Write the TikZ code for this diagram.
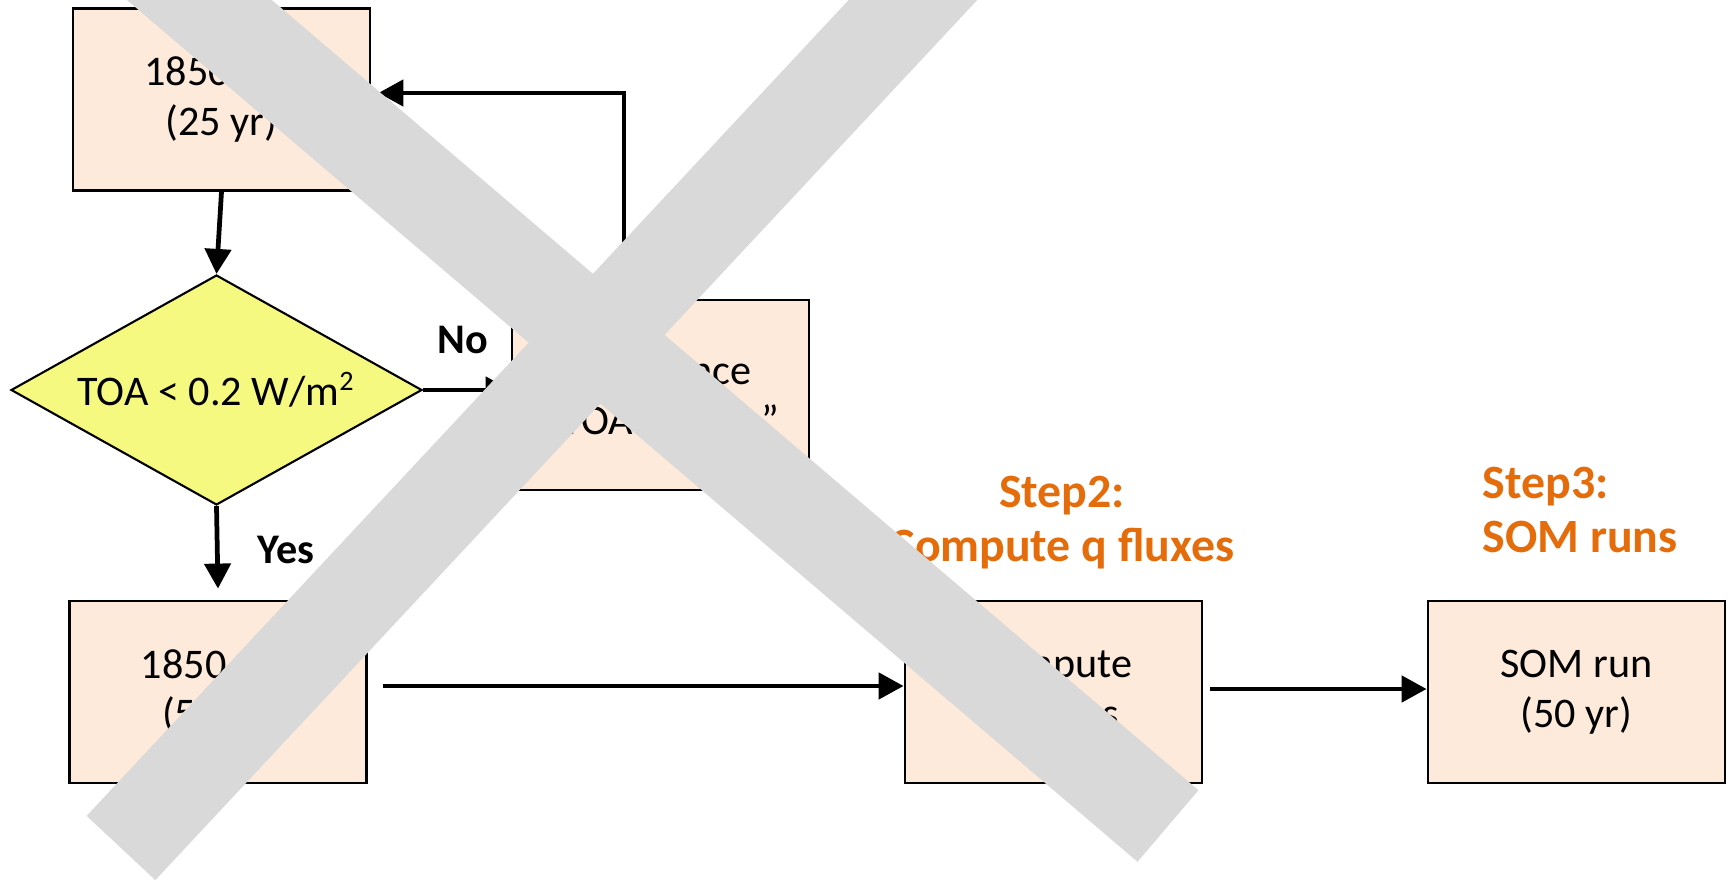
\documentclass[tikz,border=0pt]{standalone}
\usepackage{fontspec}
\setmainfont{Carlito}
\usepackage{tikz}
\usetikzlibrary{arrows.meta,positioning,shapes,calc}
\definecolor{boxfill}{HTML}{FDEADA}
\definecolor{testfill}{HTML}{F6F980}
\definecolor{steporange}{HTML}{E46C0A}
\definecolor{crossgray}{HTML}{D9D9D9}
\tikzset{
  runbox/.style={draw=black,fill=boxfill,line width=0.8pt,
                 minimum width=2.97cm,minimum height=1.82cm,
                 align=center,font=\fontsize{12}{14.2}\selectfont,inner sep=2pt},
  testbox/.style={diamond,draw=black,fill=testfill,line width=0.6pt,
                  minimum width=4.11cm,minimum height=2.30cm,aspect=1.79,
                  inner sep=0pt,font=\fontsize{12}{14.2}\selectfont},
  answer/.style={font=\fontsize{12}{14.2}\selectfont\bfseries,inner sep=0pt},
  steplabel/.style={text=steporange,font=\fontsize{13.6}{15.6}\selectfont\bfseries,
                    inner sep=0pt},
  flowarr/.style={-{Triangle[length=2.5mm,width=2.6mm]},line width=1.35pt},
  crossbar/.style={draw=crossgray,line width=9.4mm,line cap=butt}
}

\begin{document}
\begin{tikzpicture}[x=1cm,y=1cm]
  \useasboundingbox (0,0) rectangle (17.29,8.80);
  % step 1: spin-up loop
  \node[runbox] (spinup) at (2.215,7.805) {1850 run\\(25 yr)};
  \node[testbox] (toacheck) at (2.165,4.90) {TOA < 0.2 W/m\textsuperscript{2}};
  \node[runbox,minimum height=1.90cm] (tune) at (6.605,4.85) {To balance\\“TOA to zero”};
  \node[runbox] (ctrl) at (2.18,1.88) {1850 run\\(50 yr)};
  \node[answer] (nolbl) at (4.63,5.405) {No};
  \node[answer] (yeslbl) at (2.86,3.30) {Yes};
  % steps 2 and 3
  \node[runbox] (qflux) at (10.535,1.88) {Compute\\q fluxes};
  \node[runbox] (somrun) at (15.765,1.88) {SOM run\\(50 yr)};
  \node[steplabel,align=center] (steptwo) at (10.62,3.575) {Step2:\\Compute q fluxes};
  \node[steplabel,align=left,anchor=west] (stepthree) at (14.82,3.70) {Step3:\\SOM runs};
  \draw[flowarr] (spinup.south) -- (toacheck.north);
  \draw[flowarr] (toacheck.east) -- (toacheck.east -| tune.west);
  \draw[flowarr] ([xshift=-3.65mm]tune.north) |- ([xshift=0.7mm,yshift=0.65mm]spinup.east);
  \draw[flowarr] (toacheck.south) -- ([yshift=1.1mm]ctrl.north);
  \draw[flowarr] ([xshift=1.5mm,yshift=0.6mm]ctrl.east) -- ([yshift=0.6mm]qflux.west);
  \draw[flowarr] ([xshift=0.7mm,yshift=0.3mm]qflux.east) -- ([yshift=0.3mm]somrun.west);
  % grey cross over the first two steps
  \begin{scope}
    \clip (0,0) rectangle (17.29,8.80);
    \draw[crossbar] (1.29,9.40) -- (11.68,0.54);
    \draw[crossbar] (9.69,9.40) -- (1.21,0.32);
  \end{scope}
\end{tikzpicture}
\end{document}
